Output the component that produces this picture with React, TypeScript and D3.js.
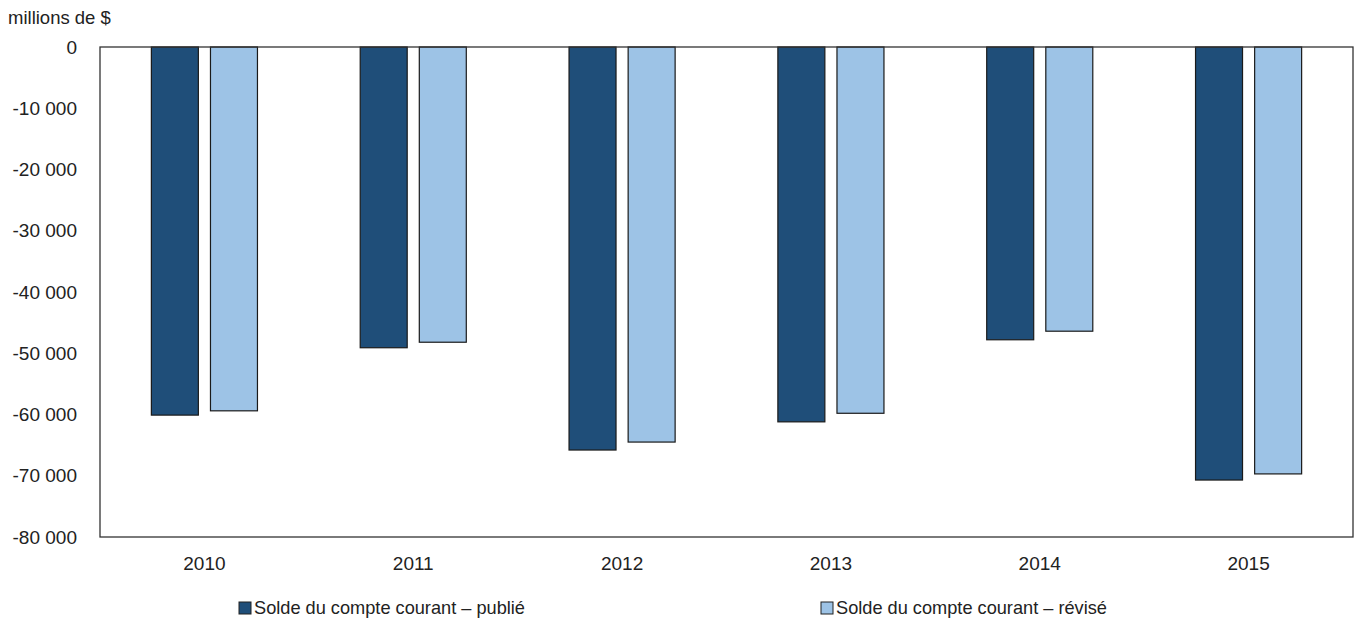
import React from "react";
import * as d3 from "d3";

const years = ["2010", "2011", "2012", "2013", "2014", "2015"];
const publie = [-60100, -49100, -65800, -61200, -47800, -70700];
const revise = [-59400, -48200, -64500, -59800, -46400, -69700];
const yTicks = [0, -10000, -20000, -30000, -40000, -50000, -60000, -70000, -80000];
const seriesNames = ["Solde du compte courant – publié", "Solde du compte courant – révisé"];
const colors = ["#1f4e79", "#9dc3e6"];

const W = 1356, H = 622;
const M = { left: 100, right: 1353, top: 47, bottom: 537 };
const FONT = "'Liberation Sans', Arial, sans-serif";

export default function App() {
  const x = d3.scaleBand<string>().domain(years).range([M.left, M.right]).padding(0);
  const y = d3.scaleLinear().domain([-80000, 0]).range([M.bottom, M.top]);
  const bw = x.bandwidth() * 0.225;
  const gap = x.bandwidth() * 0.058;
  const fmt = (v: number) => {
    if (v === 0) return "0";
    const s = Math.abs(v).toString().replace(/\B(?=(\d{3})+(?!\d))/g, " ");
    return "-" + s;
  };
  const series = [publie, revise];
  return (
    <svg width={W} height={H} style={{ position: "absolute", left: 0, top: 0, background: "#fff" }} fontFamily={FONT}>
      <text x={8} y={24} fontSize={18.5} fill="#222">millions de $</text>
      {yTicks.map((t) => (
        <text key={t} x={77} y={y(t)} dy="0.35em" textAnchor="end" fontSize={19} fill="#222">{fmt(t)}</text>
      ))}
      {years.map((yr, i) => {
        const c = (x(yr) as number) + x.bandwidth() / 2;
        return (
          <g key={yr}>
            {series.map((s, k) => {
              const x0 = k === 0 ? c - gap / 2 - bw : c + gap / 2;
              const v = s[i];
              return (
                <rect key={k} x={x0} y={y(0)} width={bw} height={y(v) - y(0)} fill={colors[k]} stroke="#1a1a1a" strokeWidth={1.2} />
              );
            })}
            <text x={c} y={570} textAnchor="middle" fontSize={19} fill="#222">{yr}</text>
          </g>
        );
      })}
      <rect x={M.left} y={M.top} width={M.right - M.left} height={M.bottom - M.top} fill="none" stroke="#333" strokeWidth={1.3} />
      {seriesNames.map((n, k) => {
        const lx = k === 0 ? 239 : 821;
        return (
          <g key={n}>
            <rect x={lx} y={602} width={12} height={12} fill={colors[k]} stroke="#222" strokeWidth={1} />
            <text x={lx + 15} y={614} fontSize={18.2} fill="#222">{n}</text>
          </g>
        );
      })}
    </svg>
  );
}
